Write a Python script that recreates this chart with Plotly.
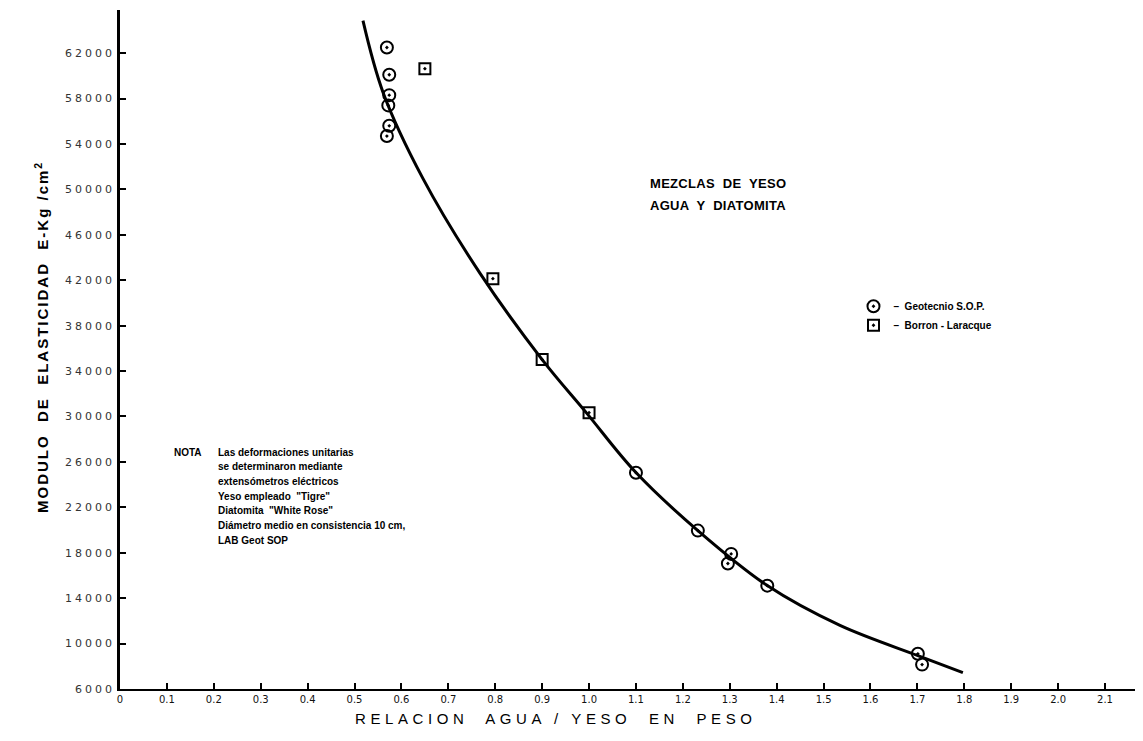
import plotly.graph_objects as go

# ---- data ----
geot_x = [0.569, 0.574, 0.574, 0.572, 0.574, 0.569, 1.100, 1.232, 1.303, 1.296, 1.380, 1.701, 1.710]
geot_y = [62500, 60100, 58300, 57400, 55600, 54700, 25050, 19950, 17900, 17050, 15100, 9100, 8150]

borron_x = [0.650, 0.795, 0.900, 1.000]
borron_y = [60630, 42140, 35010, 30340]

curve_x = [0.518, 0.561, 0.646, 0.768, 0.900, 0.994, 1.100, 1.232, 1.380, 1.535, 1.701, 1.797]
curve_y = [64860, 58520, 50950, 42580, 35010, 30340, 25060, 19950, 15110, 11600, 8940, 7450]

x_ticks = [round(i * 0.1, 1) for i in range(22)]
x_tick_labels = ["0"] + [f"{v:.1f}" for v in x_ticks[1:]]
y_ticks = list(range(6000, 62001, 4000))
y_tick_labels = [str(v) for v in y_ticks]

note_lines = [
    "Las deformaciones unitarias",
    "se determinaron mediante",
    "extensómetros eléctricos",
    "Yeso empleado  \"Tigre\"",
    "Diatomita  \"White Rose\"",
    "Diámetro medio en consistencia 10 cm,",
    "LAB Geot SOP",
]


def spaced(text, px):
    return f'<span style="letter-spacing:{px}px">{text}</span>'


fig = go.Figure()

fig.add_trace(go.Scatter(
    x=curve_x, y=curve_y, mode="lines", line=dict(color="black", width=3, shape="spline", smoothing=1.0),
    showlegend=False, hoverinfo="skip"))

fig.add_trace(go.Scatter(
    x=geot_x, y=geot_y, mode="markers", name="–  Geotecnio S.O.P.",
    marker=dict(symbol="circle-open-dot", size=12, color="black", line=dict(width=2, color="black"))))

fig.add_trace(go.Scatter(
    x=borron_x, y=borron_y, mode="markers", name="–  Borron - Laracque",
    marker=dict(symbol="square-open-dot", size=11, color="black", line=dict(width=2, color="black"))))

# page has an 8px body margin: figure is sized/offset so the plot area lands on
# page pixels x 120..1143, y 10..689
fig.update_layout(
    width=1135, height=733,
    margin=dict(l=112, r=0, t=2, b=52),
    paper_bgcolor="white", plot_bgcolor="white",
    font=dict(family="DejaVu Sans", color="black"),
    legend=dict(x=0.717, y=0.585, xanchor="left", yanchor="top", bgcolor="rgba(0,0,0,0)",
                font=dict(family="Liberation Sans", size=10, weight="bold", color="black"),
                itemwidth=30, tracegroupgap=2),
    xaxis=dict(range=[0, 2.181], tickvals=x_ticks, ticktext=x_tick_labels,
               showgrid=False, zeroline=False, showline=True, linecolor="black", linewidth=1.5,
               ticks="inside", ticklen=6, tickwidth=1.5, tickcolor="black",
               tickfont=dict(family="DejaVu Sans", size=10, color="#111")),
    yaxis=dict(range=[6000, 65800], tickvals=y_ticks,
               ticktext=[spaced(t, 3) for t in y_tick_labels],
               showgrid=False, zeroline=False, showline=True, linecolor="black", linewidth=2.5,
               ticks="inside", ticklen=6, tickwidth=1.5, tickcolor="black",
               tickfont=dict(family="DejaVu Sans", size=11, color="#333")),
)


def px_to_paper(px, py):
    # page pixel -> paper coordinates of the plot area
    return (px - 120) / 1023.0, (689 - py) / 679.0


ann = []
x0, y0 = px_to_paper(718, 183)
ann.append(dict(x=x0, y=y0, xref="paper", yref="paper", xanchor="center", yanchor="middle",
                text=spaced("MEZCLAS  DE  YESO", 0.3), showarrow=False,
                font=dict(family="Liberation Sans", size=13, weight="bold", color="black")))
x0, y0 = px_to_paper(718, 206)
ann.append(dict(x=x0, y=y0, xref="paper", yref="paper", xanchor="center", yanchor="middle",
                text=spaced("AGUA  Y  DIATOMITA", 0.3), showarrow=False,
                font=dict(family="Liberation Sans", size=13, weight="bold", color="black")))

x0, y0 = px_to_paper(172, 452)
ann.append(dict(x=x0, y=y0, xref="paper", yref="paper", text="NOTA", showarrow=False,
                xanchor="left", yanchor="middle",
                font=dict(family="Liberation Sans", size=10, weight="bold", color="black")))
for i, line in enumerate(note_lines):
    x0, y0 = px_to_paper(216, 452 + i * 14.7)
    ann.append(dict(x=x0, y=y0, xref="paper", yref="paper", text=line, showarrow=False,
                    xanchor="left", yanchor="middle", align="left",
                    font=dict(family="Liberation Sans", size=10, weight="bold", color="black")))

xt, yt = px_to_paper(42, 337)
ann.append(dict(x=xt, y=yt, xref="paper", yref="paper", textangle=-90, showarrow=False,
                xanchor="center", yanchor="middle",
                text=spaced("MODULO  DE  ELASTICIDAD  E-Kg /cm<sup>2</sup>", 2),
                font=dict(family="Liberation Sans", size=15, weight="bold", color="black")))
xt, yt = px_to_paper(556, 718)
ann.append(dict(x=xt, y=yt, xref="paper", yref="paper", showarrow=False,
                xanchor="center", yanchor="middle",
                text=spaced("RELACION  AGUA / YESO  EN  PESO", 4.6),
                font=dict(family="Liberation Sans", size=15, color="black")))

fig.update_layout(annotations=ann)

fig.write_html("out.html")
